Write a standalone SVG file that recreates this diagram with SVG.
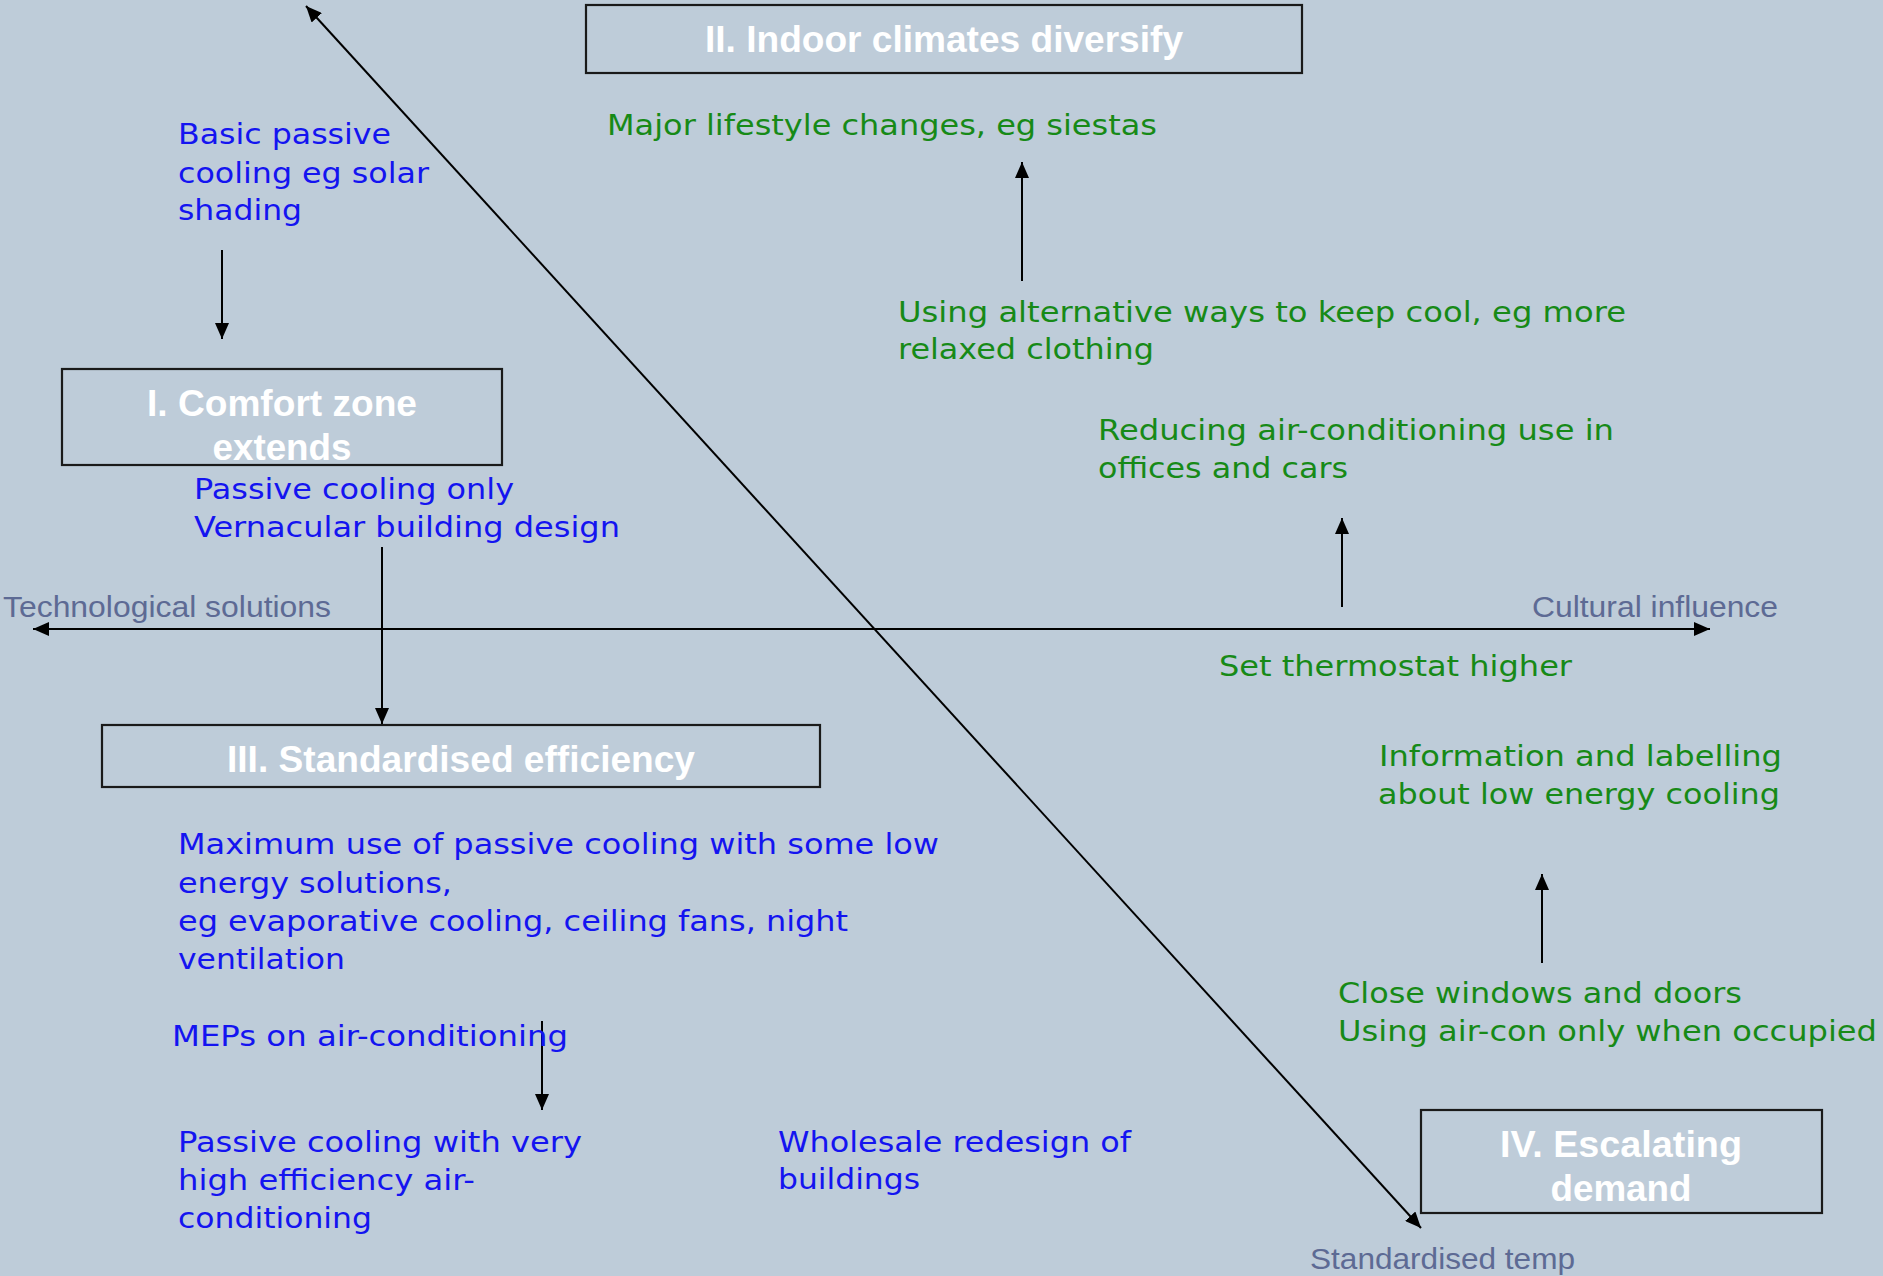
<svg xmlns="http://www.w3.org/2000/svg" width="1883" height="1276" viewBox="0 0 1883 1276">
<defs>
<style>
.box{fill:none;stroke:#1a1a1a;stroke-width:2.2}
.title{font-family:"Liberation Sans",Arial,sans-serif;font-weight:bold;font-size:36px;fill:#ffffff;text-anchor:middle}
.blue{font-family:"DejaVu Sans",Verdana,sans-serif;font-size:29px;fill:#1414F0}
.green{font-family:"DejaVu Sans",Verdana,sans-serif;font-size:29px;fill:#178A17}
.axis{font-family:"Liberation Sans",Arial,sans-serif;font-size:30px;fill:#5D6A94}
.conn{stroke:#000;stroke-width:2;fill:none}
</style>
<marker id="ah" viewBox="0 0 16 14" refX="16" refY="7" markerWidth="16" markerHeight="14" markerUnits="userSpaceOnUse" orient="auto-start-reverse">
<path d="M0,0 L16,7 L0,14 Z" fill="#000"/>
</marker>
</defs>
<rect x="0" y="0" width="1883" height="1276" fill="#BECCD9"/>

<g id="connectors">
<line class="conn" x1="306" y1="6" x2="1421" y2="1228" marker-start="url(#ah)" marker-end="url(#ah)"/>
<line class="conn" x1="33" y1="629" x2="1710" y2="629" marker-start="url(#ah)" marker-end="url(#ah)"/>
<line class="conn" x1="222" y1="250" x2="222" y2="339" marker-end="url(#ah)"/>
<line class="conn" x1="382" y1="547" x2="382" y2="724" marker-end="url(#ah)"/>
<line class="conn" x1="1022" y1="281" x2="1022" y2="162" marker-end="url(#ah)"/>
<line class="conn" x1="1342" y1="607" x2="1342" y2="518" marker-end="url(#ah)"/>
<line class="conn" x1="1542" y1="963" x2="1542" y2="874" marker-end="url(#ah)"/>
<line class="conn" x1="542" y1="1021" x2="542" y2="1110" marker-end="url(#ah)"/>
</g>

<g id="box-I">
<rect class="box" x="62" y="369" width="440" height="96"/>
<text class="title" x="282" y="416" textLength="270" lengthAdjust="spacingAndGlyphs">I. Comfort zone</text>
<text class="title" x="282" y="460" textLength="139" lengthAdjust="spacingAndGlyphs">extends</text>
</g>

<g id="box-II">
<rect class="box" x="586" y="5" width="716" height="68"/>
<text class="title" x="944" y="52" textLength="478" lengthAdjust="spacingAndGlyphs">II. Indoor climates diversify</text>
</g>

<g id="box-III">
<rect class="box" x="102" y="725" width="718" height="62"/>
<text class="title" x="461" y="772" textLength="468" lengthAdjust="spacingAndGlyphs">III. Standardised efficiency</text>
</g>

<g id="box-IV">
<rect class="box" x="1421" y="1110" width="401" height="103"/>
<text class="title" x="1621" y="1157" textLength="242" lengthAdjust="spacingAndGlyphs">IV. Escalating</text>
<text class="title" x="1621" y="1201" textLength="141" lengthAdjust="spacingAndGlyphs">demand</text>
</g>

<g id="axis-labels">
<text class="axis" x="3" y="617" textLength="328" lengthAdjust="spacingAndGlyphs">Technological solutions</text>
<text class="axis" x="1532" y="617" textLength="246" lengthAdjust="spacingAndGlyphs">Cultural influence</text>
<text class="axis" x="1310" y="1269" textLength="265" lengthAdjust="spacingAndGlyphs">Standardised temp</text>
</g>

<g id="basic-passive">
<text class="blue" x="178" y="144" textLength="213" lengthAdjust="spacingAndGlyphs">Basic passive</text>
<text class="blue" x="178" y="183" textLength="251" lengthAdjust="spacingAndGlyphs">cooling eg solar</text>
<text class="blue" x="178" y="220" textLength="124" lengthAdjust="spacingAndGlyphs">shading</text>
</g>

<g id="passive-only">
<text class="blue" x="194" y="499" textLength="320" lengthAdjust="spacingAndGlyphs">Passive cooling only</text>
<text class="blue" x="194" y="537" textLength="426" lengthAdjust="spacingAndGlyphs">Vernacular building design</text>
</g>

<g id="maximum-use">
<text class="blue" x="178" y="854" textLength="761" lengthAdjust="spacingAndGlyphs">Maximum use of passive cooling with some low</text>
<text class="blue" x="178" y="893" textLength="274" lengthAdjust="spacingAndGlyphs">energy solutions,</text>
<text class="blue" x="178" y="931" textLength="670" lengthAdjust="spacingAndGlyphs">eg evaporative cooling, ceiling fans, night</text>
<text class="blue" x="178" y="969" textLength="167" lengthAdjust="spacingAndGlyphs">ventilation</text>
</g>

<g id="meps">
<text class="blue" x="172" y="1046" textLength="396" lengthAdjust="spacingAndGlyphs">MEPs on air-conditioning</text>
</g>

<g id="high-efficiency">
<text class="blue" x="178" y="1152" textLength="404" lengthAdjust="spacingAndGlyphs">Passive cooling with very</text>
<text class="blue" x="178" y="1190" textLength="297" lengthAdjust="spacingAndGlyphs">high efficiency air-</text>
<text class="blue" x="178" y="1228" textLength="194" lengthAdjust="spacingAndGlyphs">conditioning</text>
</g>

<g id="wholesale">
<text class="blue" x="778" y="1152" textLength="353" lengthAdjust="spacingAndGlyphs">Wholesale redesign of</text>
<text class="blue" x="778" y="1189" textLength="142" lengthAdjust="spacingAndGlyphs">buildings</text>
</g>

<g id="lifestyle">
<text class="green" x="607" y="135" textLength="550" lengthAdjust="spacingAndGlyphs">Major lifestyle changes, eg siestas</text>
</g>

<g id="alternative-ways">
<text class="green" x="898" y="322" textLength="728" lengthAdjust="spacingAndGlyphs">Using alternative ways to keep cool, eg more</text>
<text class="green" x="898" y="359" textLength="256" lengthAdjust="spacingAndGlyphs">relaxed clothing</text>
</g>

<g id="reducing">
<text class="green" x="1098" y="440" textLength="516" lengthAdjust="spacingAndGlyphs">Reducing air-conditioning use in</text>
<text class="green" x="1098" y="478" textLength="250" lengthAdjust="spacingAndGlyphs">offices and cars</text>
</g>

<g id="thermostat">
<text class="green" x="1219" y="676" textLength="353" lengthAdjust="spacingAndGlyphs">Set thermostat higher</text>
</g>

<g id="information">
<text class="green" x="1379" y="766" textLength="403" lengthAdjust="spacingAndGlyphs">Information and labelling</text>
<text class="green" x="1378" y="804" textLength="402" lengthAdjust="spacingAndGlyphs">about low energy cooling</text>
</g>

<g id="close-windows">
<text class="green" x="1338" y="1003" textLength="404" lengthAdjust="spacingAndGlyphs">Close windows and doors</text>
<text class="green" x="1338" y="1041" textLength="539" lengthAdjust="spacingAndGlyphs">Using air-con only when occupied</text>
</g>
</svg>
